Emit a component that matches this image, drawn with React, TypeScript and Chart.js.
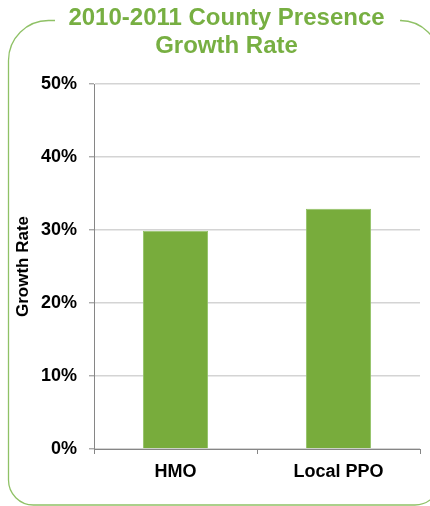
import React, { useEffect, useRef } from "react";
import { Chart, registerables } from "chart.js";

Chart.register(...registerables);

const titleLines = ["2010-2011 County Presence", "Growth Rate"];
const categories = ["HMO", "Local PPO"];
const growthRate = [29.9, 32.9];
const yTicks = [0, 10, 20, 30, 40, 50];
const yAxisTitle = "Growth Rate";

const FONT = "'Liberation Sans', Arial, sans-serif";
const GREEN = "#78ac3c";
const TITLE_GREEN = "#77af42";
const FRAME_GREEN = "#8fc166";

const framePlugin = {
  id: "frame",
  beforeDraw(chart: any) {
    const ctx = chart.ctx;
    ctx.save();
    ctx.fillStyle = "#ffffff";
    ctx.fillRect(0, 0, chart.width, chart.height);
    // frame
    ctx.strokeStyle = FRAME_GREEN;
    ctx.lineWidth = 1.3;
    const L = 8.5, T = 20.5, R = 440, B = 505;
    ctx.beginPath();
    ctx.moveTo(55, T);
    ctx.arcTo(L, T, L, T + 40, 40);
    ctx.arcTo(L, B, L + 25, B, 25);
    ctx.arcTo(R, B, R, B - 25, 25);
    ctx.arcTo(R, T, R - 40, T, 40);
    ctx.lineTo(402, T);
    ctx.stroke();
    // title
    ctx.fillStyle = TITLE_GREEN;
    ctx.font = `bold 24px ${FONT}`;
    ctx.textAlign = "center";
    ctx.textBaseline = "alphabetic";
    ctx.fillText(titleLines[0], 226.5, 25);
    ctx.fillText(titleLines[1], 226.5, 52.5);
    ctx.restore();
  },
};

export default function App() {
  const ref = useRef<HTMLCanvasElement>(null);
  useEffect(() => {
    if (!ref.current) return;
    const chart = new Chart(ref.current, {
      type: "bar",
      data: {
        labels: categories,
        datasets: [
          {
            data: growthRate,
            backgroundColor: GREEN,
            borderColor: "#92c265",
            borderWidth: 1,
            barPercentage: 0.4,
            categoryPercentage: 1,
          },
        ],
      },
      options: {
        animation: false,
        responsive: false,
        maintainAspectRatio: false,
        layout: { padding: { left: 0, right: 10, top: 84, bottom: 0 } },
        plugins: {
          legend: { display: false },
          title: { display: false },
          tooltip: { enabled: false },
        },
        scales: {
          x: {
            afterFit: (s: any) => {
              s.height = 57;
            },
            grid: {
              offset: true,
              drawOnChartArea: false,
              color: "#868686",
              tickLength: 5,
            },
            border: { color: "#868686", width: 1 },
            ticks: {
              color: "#000",
              padding: 7,
              font: { family: FONT, size: 18, weight: "bold" },
            },
          },
          y: {
            min: 0,
            max: 50,
            afterFit: (s: any) => {
              s.width = 94;
            },
            afterBuildTicks: (s: any) => {
              s.ticks = yTicks.map((v) => ({ value: v }));
            },
            grid: {
              color: "#d4d4d4",
              lineWidth: 1.6,
              tickColor: "#868686",
              tickWidth: 1,
              tickLength: 5,
            },
            border: { color: "#868686", width: 1 },
            ticks: {
              color: "#000",
              padding: 12,
              font: { family: FONT, size: 18, weight: "bold" },
              callback: (v: any) => `${v}%`,
            },
            title: {
              display: true,
              text: yAxisTitle,
              color: "#000",
              padding: { top: 13, bottom: 0 },
              font: { family: FONT, size: 17, weight: "bold" },
            },
          },
        },
      },
      plugins: [framePlugin],
    });
    return () => chart.destroy();
  }, []);
  return (
    <div style={{ position: "fixed", left: 0, top: 0, width: 430, height: 506 }}>
      <canvas ref={ref} width={430} height={506} style={{ display: "block", width: 430, height: 506 }} />
    </div>
  );
}
